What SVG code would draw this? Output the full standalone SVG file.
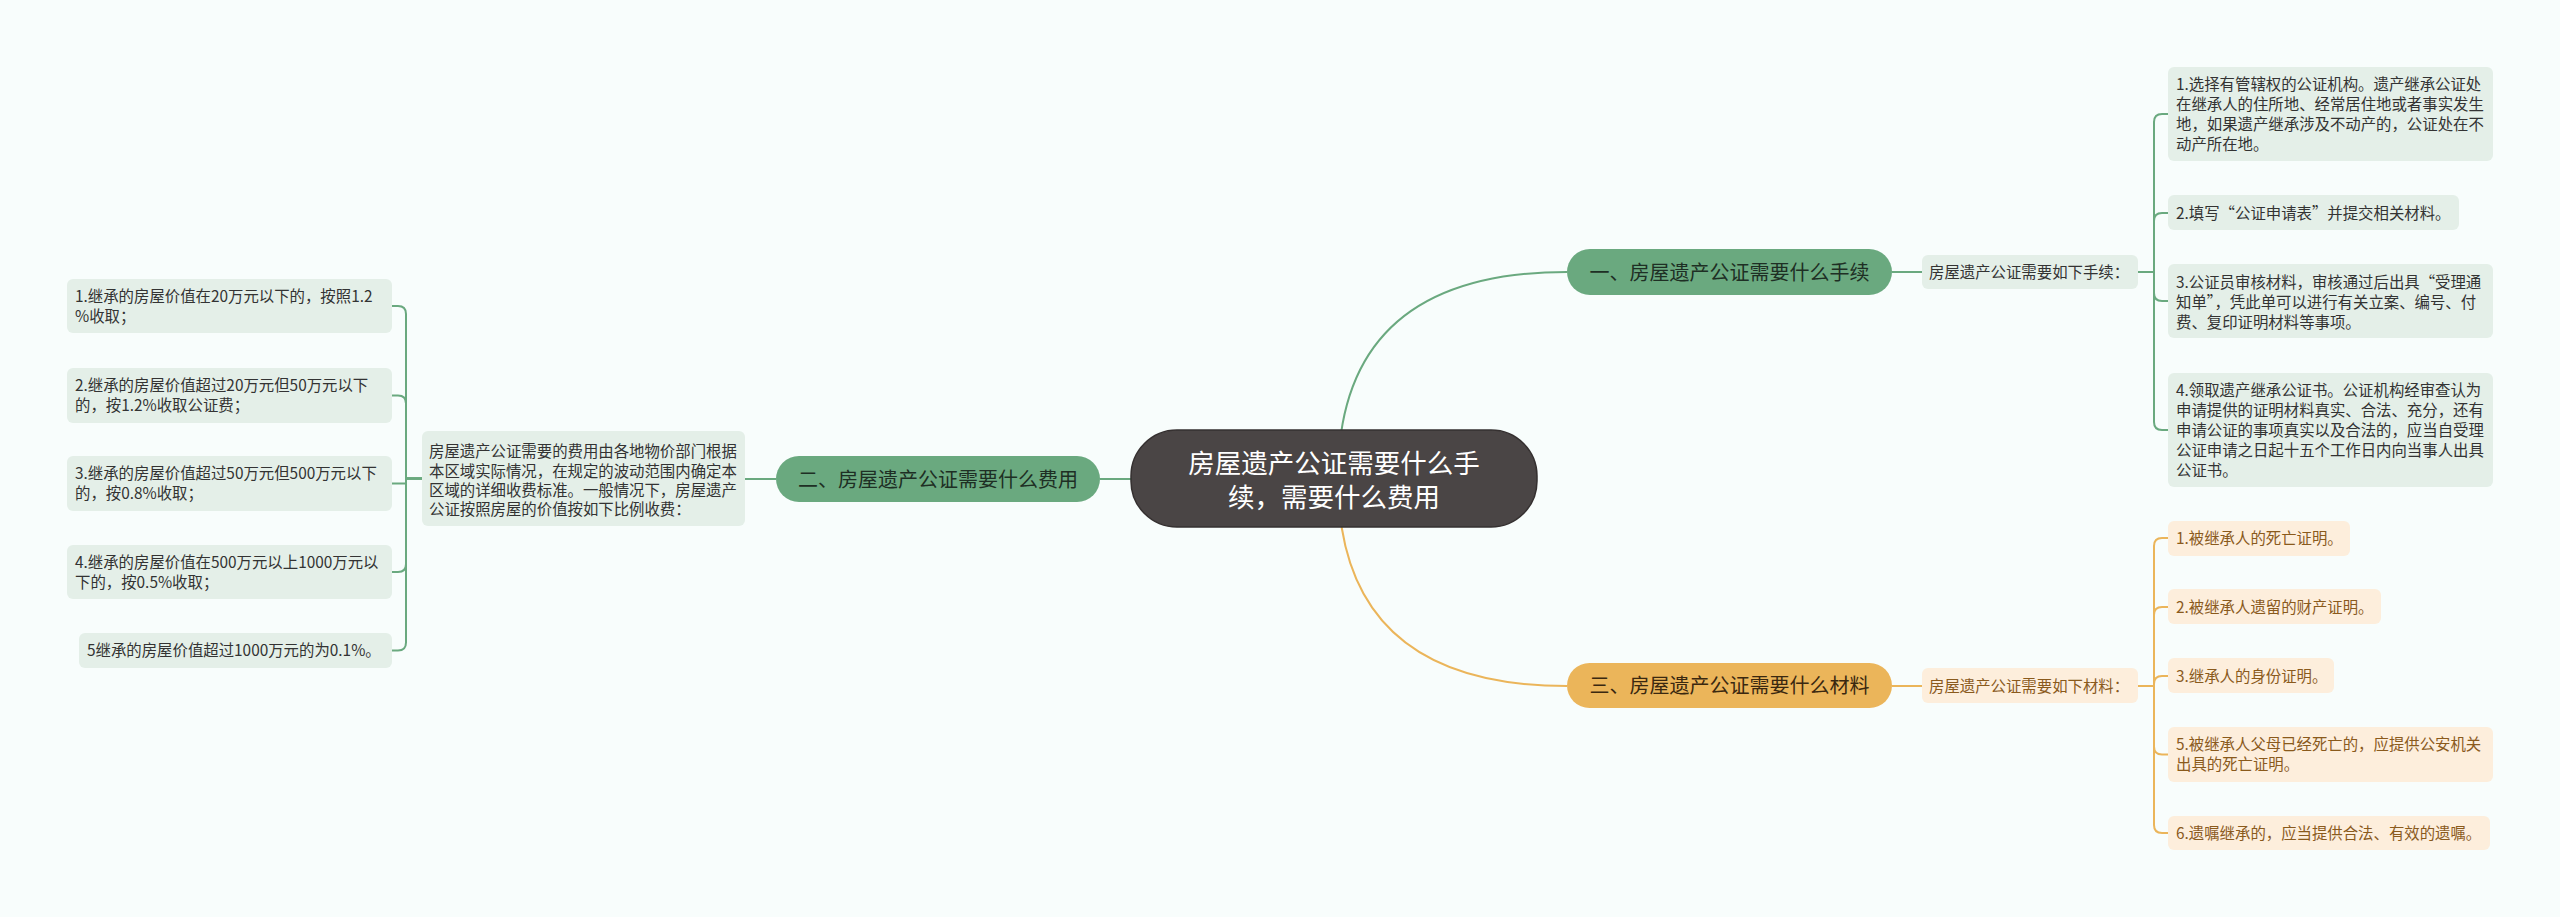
<svg xmlns="http://www.w3.org/2000/svg" width="2560" height="917" viewBox="0 0 2560 917">
<style>
text{font-family:"Noto Sans CJK SC","Noto Sans",sans-serif}
.c{fill:none;stroke-width:2}
.g{stroke:#6aa97f}
.o{stroke:#ebb55a}
.gl{fill:#e4efe8}
.ol{fill:#fdeedc}
.gt{fill:#333;font-size:15.4px}
.ot{fill:#8a5a1c;font-size:15.4px}
.mt{font-size:20px;text-anchor:middle}
</style>
<rect width="2560" height="917" fill="#f8fdfc"/>
<g id="connectors">
<path class="c g" d="M1338 478 Q1338 272 1567 272"/>
<path class="c o" d="M1338 478 Q1338 686 1567 686"/>
<path class="c g" d="M1131 479 H1100"/>
<path class="c g" d="M776 479 H745"/>
<path class="c g" d="M1892 272 H1922"/>
<path class="c o" d="M1892 686 H1922"/>
<path class="c g" d="M2138 272 H2154 V122 Q2154 114 2162 114 H2168"/>
<path class="c g" d="M2138 272 H2154 V221 Q2154 213 2162 213 H2168"/>
<path class="c g" d="M2138 272 H2154 V293 Q2154 301 2162 301 H2168"/>
<path class="c g" d="M2138 272 H2154 V422 Q2154 430 2162 430 H2168"/>
<path class="c o" d="M2138 686 H2154 V546 Q2154 538 2162 538 H2168"/>
<path class="c o" d="M2138 686 H2154 V615 Q2154 607 2162 607 H2168"/>
<path class="c o" d="M2138 686 H2154 V684 Q2154 676 2162 676 H2168"/>
<path class="c o" d="M2138 686 H2154 V746.5 Q2154 754.5 2162 754.5 H2168"/>
<path class="c o" d="M2138 686 H2154 V825 Q2154 833 2162 833 H2168"/>
<path class="c g" d="M422 478.5 H406 V314 Q406 306 398 306 H392"/>
<path class="c g" d="M422 478.5 H406 V403.5 Q406 395.5 398 395.5 H392"/>
<path class="c g" d="M422 478.5 H406 V483.5 Q406 483.5 398 483.5 H392"/>
<path class="c g" d="M422 478.5 H406 V564 Q406 572 398 572 H392"/>
<path class="c g" d="M422 478.5 H406 V642.5 Q406 650.5 398 650.5 H392"/>
</g>
<g id="center">
<rect x="1131" y="430" width="406" height="97" rx="46" fill="#4a4545" stroke="#353030" stroke-width="1.5"/>
<text x="1334" y="473" fill="#fff" font-size="26.5" text-anchor="middle">房屋遗产公证需要什么手</text>
<text x="1334" y="507" fill="#fff" font-size="26.5" text-anchor="middle">续，需要什么费用</text>
</g>
<g id="n1">
<rect x="1567" y="249" width="325" height="46" rx="23" fill="#6aa97f"/>
<text class="mt" x="1729.5" y="279.5" fill="#1e2f24">一、房屋遗产公证需要什么手续</text>
</g>
<g id="n2">
<rect x="776" y="456" width="324" height="46" rx="23" fill="#6aa97f"/>
<text class="mt" x="938" y="486.5" fill="#1e2f24">二、房屋遗产公证需要什么费用</text>
</g>
<g id="n3">
<rect x="1567" y="663" width="325" height="45" rx="22.5" fill="#ebb55a"/>
<text class="mt" x="1729.5" y="693" fill="#3a2810">三、房屋遗产公证需要什么材料</text>
</g>
<g id="n1-sub">
<rect class="gl" x="1922" y="255" width="216" height="34" rx="6"/>
<text class="gt" x="1929" y="278">房屋遗产公证需要如下手续：</text>
</g>
<g id="n1-1">
<rect class="gl" x="2168" y="67" width="325" height="94" rx="6"/>
<text class="gt" x="2176" y="90">1.选择有管辖权的公证机构。遗产继承公证处</text>
<text class="gt" x="2176" y="110">在继承人的住所地、经常居住地或者事实发生</text>
<text class="gt" x="2176" y="130">地，如果遗产继承涉及不动产的，公证处在不</text>
<text class="gt" x="2176" y="150">动产所在地。</text>
</g>
<g id="n1-2">
<rect class="gl" x="2168" y="195" width="291" height="35" rx="6"/>
<text class="gt" x="2176" y="219">2.填写“公证申请表”并提交相关材料。</text>
</g>
<g id="n1-3">
<rect class="gl" x="2168" y="264" width="325" height="74" rx="6"/>
<text class="gt" x="2176" y="288">3.公证员审核材料，审核通过后出具“受理通</text>
<text class="gt" x="2176" y="308">知单”，凭此单可以进行有关立案、编号、付</text>
<text class="gt" x="2176" y="328">费、复印证明材料等事项。</text>
</g>
<g id="n1-4">
<rect class="gl" x="2168" y="373" width="325" height="114" rx="6"/>
<text class="gt" x="2176" y="396">4.领取遗产继承公证书。公证机构经审查认为</text>
<text class="gt" x="2176" y="416">申请提供的证明材料真实、合法、充分，还有</text>
<text class="gt" x="2176" y="436">申请公证的事项真实以及合法的，应当自受理</text>
<text class="gt" x="2176" y="456">公证申请之日起十五个工作日内向当事人出具</text>
<text class="gt" x="2176" y="476">公证书。</text>
</g>
<g id="n2-sub">
<rect class="gl" x="422" y="431" width="323" height="95" rx="6"/>
<text class="gt" x="429" y="457">房屋遗产公证需要的费用由各地物价部门根据</text>
<text class="gt" x="429" y="477">本区域实际情况，在规定的波动范围内确定本</text>
<text class="gt" x="429" y="496">区域的详细收费标准。一般情况下，房屋遗产</text>
<text class="gt" x="429" y="515">公证按照房屋的价值按如下比例收费：</text>
</g>
<g id="n2-1">
<rect class="gl" x="67" y="279" width="325" height="54" rx="6"/>
<text class="gt" x="75" y="302">1.继承的房屋价值在20万元以下的，按照1.2</text>
<text class="gt" x="75" y="322">%收取；</text>
</g>
<g id="n2-2">
<rect class="gl" x="67" y="368" width="325" height="55" rx="6"/>
<text class="gt" x="75" y="391">2.继承的房屋价值超过20万元但50万元以下</text>
<text class="gt" x="75" y="411">的，按1.2%收取公证费；</text>
</g>
<g id="n2-3">
<rect class="gl" x="67" y="456" width="325" height="55" rx="6"/>
<text class="gt" x="75" y="479">3.继承的房屋价值超过50万元但500万元以下</text>
<text class="gt" x="75" y="499">的，按0.8%收取；</text>
</g>
<g id="n2-4">
<rect class="gl" x="67" y="545" width="325" height="54" rx="6"/>
<text class="gt" x="75" y="568">4.继承的房屋价值在500万元以上1000万元以</text>
<text class="gt" x="75" y="588">下的，按0.5%收取；</text>
</g>
<g id="n2-5">
<rect class="gl" x="79" y="633" width="313" height="35" rx="6"/>
<text class="gt" x="87" y="656">5继承的房屋价值超过1000万元的为0.1%。</text>
</g>
<g id="n3-sub">
<rect class="ol" x="1922" y="668" width="216" height="35" rx="6"/>
<text class="ot" x="1929" y="692">房屋遗产公证需要如下材料：</text>
</g>
<g id="n3-1">
<rect class="ol" x="2168" y="521" width="182" height="35" rx="6"/>
<text class="ot" x="2176" y="544">1.被继承人的死亡证明。</text>
</g>
<g id="n3-2">
<rect class="ol" x="2168" y="589" width="213" height="35" rx="6"/>
<text class="ot" x="2176" y="613">2.被继承人遗留的财产证明。</text>
</g>
<g id="n3-3">
<rect class="ol" x="2168" y="658" width="166" height="35" rx="6"/>
<text class="ot" x="2176" y="682">3.继承人的身份证明。</text>
</g>
<g id="n3-5">
<rect class="ol" x="2168" y="727" width="325" height="55" rx="6"/>
<text class="ot" x="2176" y="750">5.被继承人父母已经死亡的，应提供公安机关</text>
<text class="ot" x="2176" y="770">出具的死亡证明。</text>
</g>
<g id="n3-6">
<rect class="ol" x="2168" y="816" width="322" height="34" rx="6"/>
<text class="ot" x="2176" y="839">6.遗嘱继承的，应当提供合法、有效的遗嘱。</text>
</g>
</svg>
